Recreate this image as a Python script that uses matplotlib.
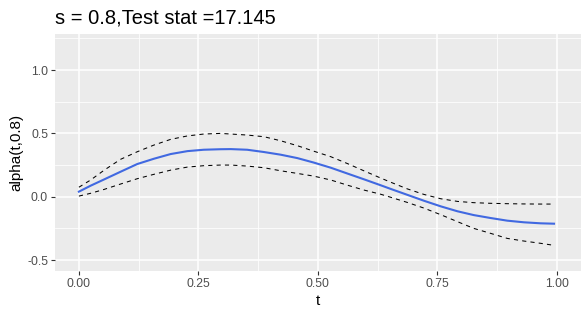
import matplotlib
matplotlib.use("Agg")
import matplotlib.pyplot as plt
from matplotlib.ticker import FixedLocator

t = [0.0, 0.0245, 0.053, 0.087, 0.122, 0.157, 0.192, 0.227, 0.261, 0.296,
     0.318, 0.352, 0.387, 0.422, 0.457, 0.491, 0.527, 0.561, 0.596, 0.631,
     0.652, 0.687, 0.722, 0.757, 0.792, 0.826, 0.861, 0.896, 0.931, 0.966,
     0.994]
alpha = [0.04, 0.087, 0.137, 0.197, 0.258, 0.30, 0.337, 0.36, 0.371, 0.375,
         0.376, 0.371, 0.353, 0.332, 0.305, 0.27, 0.229, 0.184, 0.138, 0.091,
         0.062, 0.015, -0.032, -0.076, -0.115, -0.145, -0.168, -0.189, -0.202, -0.21,
         -0.213]
upper = [0.075, 0.132, 0.21, 0.295, 0.355, 0.408, 0.453, 0.48, 0.495, 0.50,
         0.495, 0.487, 0.474, 0.442, 0.403, 0.36, 0.316, 0.263, 0.205, 0.148,
         0.115, 0.062, 0.018, -0.016, -0.037, -0.047, -0.052, -0.055, -0.057, -0.058,
         -0.058]
lower = [0.005, 0.027, 0.058, 0.10, 0.142, 0.177, 0.21, 0.234, 0.245, 0.25,
         0.25, 0.242, 0.229, 0.205, 0.184, 0.163, 0.132, 0.092, 0.053, 0.02,
         -0.004, -0.045, -0.09, -0.142, -0.197, -0.25, -0.289, -0.329, -0.35, -0.368,
         -0.384]

xticks = [0.0, 0.25, 0.5, 0.75, 1.0]
xticklabels = ["0.00", "0.25", "0.50", "0.75", "1.00"]
yticks = [-0.5, 0.0, 0.5, 1.0]
yticklabels = ["-0.5", "0.0", "0.5", "1.0"]
title = "s = 0.8,Test stat =17.145"

plt.rcParams['font.family'] = ['Liberation Sans', 'DejaVu Sans']

W, H = 586, 319
left, right, top, bottom = 55, 580.8, 34, 270.8
fig = plt.figure(figsize=(W/100, H/100), dpi=100)
ax = fig.add_axes([left/W, 1-bottom/H, (right-left)/W, (bottom-top)/H])
ax.set_facecolor('#EBEBEB')
for s in ax.spines.values():
    s.set_visible(False)

ax.set_xlim(-0.05, 1.05)
ax.set_ylim(-0.585, 1.285)

ax.xaxis.set_major_locator(FixedLocator(xticks))
ax.yaxis.set_major_locator(FixedLocator(yticks))
ax.xaxis.set_minor_locator(FixedLocator([0.125, 0.375, 0.625, 0.875]))
ax.yaxis.set_minor_locator(FixedLocator([-0.25, 0.25, 0.75, 1.25]))
ax.set_xticklabels(xticklabels)
ax.set_yticklabels(yticklabels)
ax.grid(which='major', color='white', linewidth=1.1)
ax.grid(which='minor', color='white', linewidth=0.55)
ax.set_axisbelow(True)
ax.tick_params(which='major', length=3, width=0.8, color='#333333',
               labelcolor='#4D4D4D', labelsize=8.7, pad=2)
ax.tick_params(which='minor', length=0)

ax.plot(t, upper, color='black', linewidth=0.75, linestyle=(0, (4, 4)))
ax.plot(t, lower, color='black', linewidth=0.75, linestyle=(0, (4, 4)))
ax.plot(t, alpha, color='#4169E1', linewidth=1.5)

ax.set_xlabel('t', fontsize=11, color='black', labelpad=3)
ax.set_ylabel('alpha(t,0.8)', fontsize=11, color='black', labelpad=3)
fig.text(left/W, 1-24/H, title, fontsize=14.5, color='black',
         ha='left', va='baseline')

fig.savefig('out.png', dpi=100)
